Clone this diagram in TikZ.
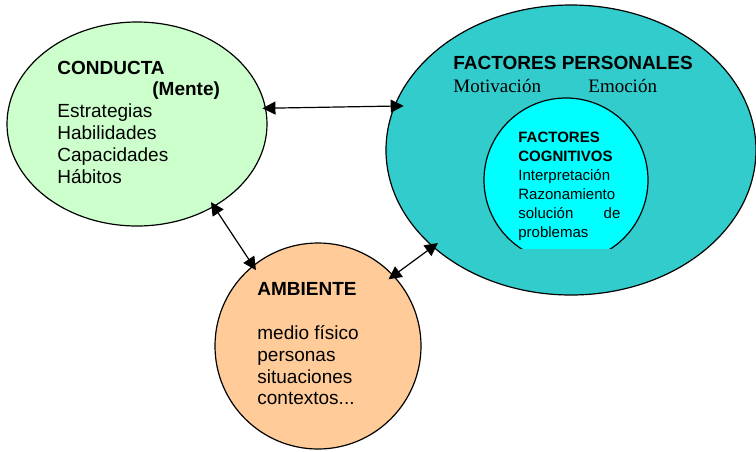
\documentclass[tikz,border=0pt]{standalone}
\usepackage{fontspec}
\setmainfont{Liberation Sans}
\newfontfamily\timesfont{Liberation Serif}
\usepackage{xcolor}
\definecolor{cgreen}{rgb}{0.8,1,0.8}
\definecolor{cteal}{rgb}{0.2,0.8,0.8}
\definecolor{ccyan}{rgb}{0,1,1}
\definecolor{corange}{rgb}{1,0.8,0.6}
\usepackage{tikz}
\usetikzlibrary{shapes.geometric, arrows.meta}
\tikzset{
Zone/.style={
	draw, ellipse,
	inner sep=0pt, outer sep=0pt,
	line width=0.6pt
},
ConductaZone/.style={
	Zone,
	fill=cgreen,
	minimum width=130pt, minimum height=102pt
},
PersonalZone/.style={
	Zone,
	fill=cteal,
	minimum width=185pt, minimum height=145pt
},
CognitiveZone/.style={
	Zone,
	fill=ccyan,
	minimum width=82pt, minimum height=82pt
},
AmbientZone/.style={
	Zone,
	fill=corange,
	minimum width=103pt, minimum height=103pt
},
Label/.style={
	inner sep=0pt, align=left,
	font=\fontsize{9.5}{10.9}\selectfont
},
SmallLabel/.style={
	Label,
	font=\fontsize{7.5}{9.5}\selectfont
},
Edge/.style={
	draw=black, line width=0.6pt,
	{Triangle[length=6.5pt,width=6.5pt]}-{Triangle[length=6.5pt,width=6.5pt]}
}
}

\begin{document}
\begin{tikzpicture}[x=0.5pt, y=-0.5pt]
	\useasboundingbox (0,0) rectangle (756,451);

	\node[ConductaZone] (conducta) at (137,124) {};
	\node[PersonalZone] (personal) at (571,150) {};
	\node[AmbientZone] (ambiente) at (318,346) {};
	\begin{scope}
		\clip (450,0) rectangle (700,248);
		\node[CognitiveZone] (cognitivo) at (566,180) {};
	\end{scope}

	\node[Label, anchor=north west] (conductatext) at (57,60.4)
		{\textbf{CONDUCTA}\\ \hspace*{47.5pt}\textbf{(Mente)}\\ Estrategias\\ Habilidades\\ Capacidades\\ Hábitos};
	\node[Label, anchor=base west] (personaltitle) at (453,69) {\textbf{FACTORES PERSONALES}};
	\node[Label, anchor=base west, font=\fontsize{9.5}{10.9}\timesfont] (motivacion) at (453,92) {Motivación};
	\node[Label, anchor=base west, font=\fontsize{9.5}{10.9}\timesfont] (emocion) at (588,92) {Emoción};
	\node[SmallLabel, anchor=north west, text width=51pt] (cognitivotext) at (518,132)
		{\textbf{FACTORES}\\ \textbf{COGNITIVOS}\\ Interpretación\\ Razonamiento\\ solución\hfill de\\ problemas};
	\node[Label, anchor=north west] (ambientetext) at (257,282.4)
		{\textbf{AMBIENTE}\\[10.9pt] medio físico\\ personas\\ situaciones\\ contextos...};

	\draw[Edge, shorten <=-1.5pt, shorten >=-4.5pt] (conducta.7.6) -- (personal.166.3);
	\draw[Edge, shorten <=-2.5pt, shorten >=-2.5pt] (conducta.-47) -- (ambiente.129.4);
	\draw[Edge, shorten <=-3pt, shorten >=-3pt] (ambiente.43.7) -- (personal.215.5);
\end{tikzpicture}
\end{document}
